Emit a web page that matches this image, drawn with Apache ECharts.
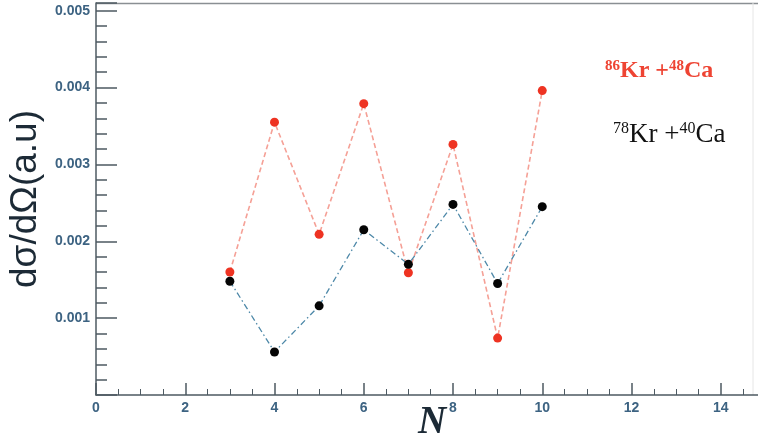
<!DOCTYPE html>
<html>
<head>
<meta charset="utf-8">
<script src="https://cdn.jsdelivr.net/npm/echarts@6/dist/echarts.min.js"></script>
<style>
  html, body { margin: 0; padding: 0; background: #fff; }
  #chart { width: 758px; height: 443px; }
</style>
</head>
<body>
<div id="chart"></div>
<script>
// N 值
var nValues = [3, 4, 5, 6, 7, 8, 9, 10];
// 86Kr + 48Ca (红)
var kr86Ca48 = [0.00160, 0.00355, 0.00209, 0.00379, 0.00159, 0.00326, 0.00074, 0.00396];
// 78Kr + 40Ca (黑)
var kr78Ca40 = [0.00148, 0.00056, 0.00116, 0.00215, 0.00170, 0.00248, 0.00145, 0.00245];

var xTickLabels = ['0', '2', '4', '6', '8', '10', '12', '14'];
var yTickLabels = ['0.001', '0.002', '0.003', '0.004', '0.005'];

function pairs(xs, ys) {
    return xs.map(function (x, i) { return [x, ys[i]]; });
}

var chart = echarts.init(document.getElementById('chart'));

var axisColor = '#4e5a62';
var labelColor = '#3d6382';

var option = {
    animation: false,
    grid: { left: 96, right: -52, top: 3, bottom: 48, outerBoundsMode: 'none', containLabel: false },
    xAxis: {
        type: 'value',
        min: 0,
        max: 16,
        interval: 2,
        axisLine: { onZero: false, lineStyle: { color: axisColor, width: 1.5 } },
        axisTick: { inside: true, length: 12, lineStyle: { color: axisColor, width: 1.5 } },
        minorTick: { show: true, splitNumber: 4, length: 6, lineStyle: { color: axisColor, width: 1 } },
        splitLine: { show: false },
        axisLabel: {
            margin: 6,
            color: labelColor,
            fontFamily: 'Liberation Sans, Arial, sans-serif',
            fontWeight: 'bold',
            fontSize: 14,
            formatter: function (v) {
                var s = String(v);
                return xTickLabels.indexOf(s) >= 0 ? s : '';
            }
        }
    },
    yAxis: {
        type: 'value',
        min: 0,
        max: 0.0051,
        interval: 0.001,
        axisLine: { lineStyle: { color: axisColor, width: 1.5 } },
        axisTick: { inside: true, length: 21, lineStyle: { color: axisColor, width: 1.5 } },
        minorTick: { show: true, splitNumber: 5, length: 11, lineStyle: { color: axisColor, width: 1.5 } },
        splitLine: { show: false },
        axisLabel: {
            margin: 6,
            color: labelColor,
            fontFamily: 'Liberation Sans, Arial, sans-serif',
            fontWeight: 'bold',
            fontSize: 14,
            formatter: function (v) {
                var s = v.toFixed(3);
                return yTickLabels.indexOf(s) >= 0 && Math.abs(v - parseFloat(s)) < 1e-9 ? s : '';
            }
        },
        name: 'dσ/dΩ(a.u)',
        nameLocation: 'middle',
        nameGap: 35,
        nameTextStyle: {
            color: '#1c2a36',
            fontFamily: 'Liberation Sans, Arial, sans-serif',
            fontSize: 37
        }
    },
    graphic: [
        {
            type: 'line',
            shape: { x1: 96, y1: 3.5, x2: 758, y2: 3.5 },
            style: { stroke: '#8a8f93', lineWidth: 1.5 },
            silent: true
        },
        {
            type: 'line',
            shape: { x1: 753, y1: 3, x2: 753, y2: 395 },
            style: { stroke: '#e6e6e6', lineWidth: 1 },
            silent: true
        },
        {
            // x 轴名称 N
            type: 'text',
            left: 418,
            top: 403,
            style: {
                text: 'N',
                fill: '#1c2a36',
                font: 'italic bold 39px "Liberation Serif", serif'
            }
        },
        {
            type: 'text',
            left: 605,
            top: 59,
            style: {
                text: '{s|86}{m|Kr +}{s|48}{m|Ca}',
                fill: '#ee4433',
                rich: {
                    s: { fontFamily: 'Liberation Serif, serif', fontWeight: 'bold', fontSize: 15, verticalAlign: 'top', fill: '#ee4433', padding: [0, 0, 8, 0] },
                    m: { fontFamily: 'Liberation Serif, serif', fontWeight: 'bold', fontSize: 24, fill: '#ee4433' }
                }
            }
        },
        {
            type: 'text',
            left: 613,
            top: 121,
            style: {
                text: '{s|78}{m|Kr +}{s|40}{m|Ca}',
                fill: '#111',
                rich: {
                    s: { fontFamily: 'Liberation Serif, serif', fontSize: 16, verticalAlign: 'top', fill: '#111', padding: [0, 0, 8, 0] },
                    m: { fontFamily: 'Liberation Serif, serif', fontSize: 27, fill: '#111' }
                }
            }
        }
    ],
    series: [
        {
            name: '86Kr+48Ca',
            type: 'line',
            data: pairs(nValues, kr86Ca48),
            symbol: 'circle',
            symbolSize: 9,
            itemStyle: { color: '#ee3322' },
            lineStyle: { color: '#f5a096', width: 1.6, type: [5, 3] },
            z: 2
        },
        {
            name: '78Kr+40Ca',
            type: 'line',
            data: pairs(nValues, kr78Ca40),
            symbol: 'circle',
            symbolSize: 9,
            itemStyle: { color: '#050505' },
            lineStyle: { color: '#4d88a8', width: 1.3, type: [6, 3, 1.5, 3] },
            z: 3
        }
    ]
};

chart.setOption(option);
</script>
</body>
</html>
